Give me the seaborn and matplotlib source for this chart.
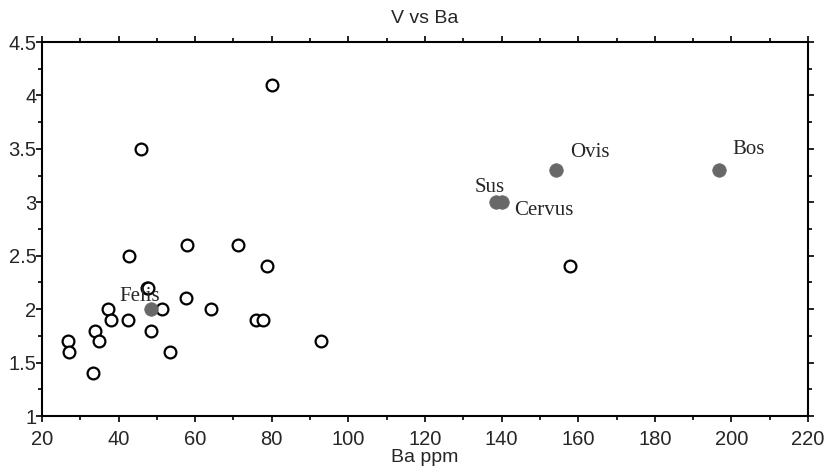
import matplotlib
matplotlib.use("Agg")
import matplotlib.pyplot as plt
import seaborn as sns
import pandas as pd
from matplotlib.ticker import MultipleLocator

# Open circles (unlabelled samples)
open_ba = [26.7, 27.1, 33.4, 33.8, 35.0, 37.2, 37.9, 42.4, 42.8, 47.5, 47.7, 48.5,
           51.4, 53.4, 57.5, 57.9, 64.0, 71.3, 78.7, 75.8, 77.8, 92.8, 45.8, 80.1, 157.9]
open_v = [1.7, 1.6, 1.4, 1.8, 1.7, 2.0, 1.9, 1.9, 2.5, 2.2, 2.2, 1.8,
          2.0, 1.6, 2.1, 2.6, 2.0, 2.6, 2.4, 1.9, 1.9, 1.7, 3.5, 4.1, 2.4]

# Filled reference animals
ref_names = ["Felis", "Sus", "Cervus", "Ovis", "Bos"]
ref_ba = [48.5, 138.5, 140.0, 154.2, 196.8]
ref_v = [2.0, 3.0, 3.0, 3.3, 3.3]

x_ticks = [20, 40, 60, 80, 100, 120, 140, 160, 180, 200, 220]
y_ticks = [1, 1.5, 2, 2.5, 3, 3.5, 4, 4.5]

sns.set_style("white")
plt.rcParams['font.family'] = ['Liberation Sans', 'DejaVu Sans']

fig = plt.figure(figsize=(8.3, 4.73), dpi=100)
ax = fig.add_axes([0.0506, 0.1205, 0.9229, 0.7907])

df_open = pd.DataFrame({"Ba": open_ba, "V": open_v})
df_ref = pd.DataFrame({"Ba": ref_ba, "V": ref_v, "name": ref_names})

sns.scatterplot(data=df_open, x="Ba", y="V", ax=ax, s=72, facecolors="white",
                edgecolor="black", linewidth=1.6, zorder=3)
sns.scatterplot(data=df_ref, x="Ba", y="V", ax=ax, s=95, color="#686868",
                edgecolor="#686868", linewidth=0.5, zorder=4)

offsets = {"Felis": (9, 13, "right", "center"),
           "Sus": (9, 15, "right", "center"),
           "Cervus": (13, -8, "left", "center"),
           "Ovis": (14, 18, "left", "center"),
           "Bos": (13, 21, "left", "center")}
for n, xx, yy in zip(ref_names, ref_ba, ref_v):
    dx, dy, ha, va = offsets[n]
    ax.annotate(n, (xx, yy), xytext=(dx, dy), textcoords="offset pixels",
                ha=ha, va=va, fontsize=15, family="Liberation Serif", zorder=5)

ax.set_xlim(20, 220)
ax.set_ylim(1, 4.5)
ax.set_xticks(x_ticks)
ax.set_yticks(y_ticks)
ax.set_yticklabels([f"{v:g}" for v in y_ticks])
ax.xaxis.set_minor_locator(MultipleLocator(10))
ax.yaxis.set_minor_locator(MultipleLocator(0.25))
ax.tick_params(which="both", direction="out", top=True, right=True,
               bottom=True, left=True, labelsize=14.5, width=1.2, color="black")
ax.tick_params(which="major", length=4)
ax.tick_params(which="minor", length=3)
ax.tick_params(axis="x", pad=6)
ax.tick_params(axis="y", pad=0)
for s in ax.spines.values():
    s.set_visible(True)
    s.set_color("black")
    s.set_linewidth(1.5)

ax.set_xlabel("Ba ppm", fontsize=14, labelpad=0)
ax.set_ylabel("")
ax.set_title("V vs Ba", fontsize=14, pad=14)

fig.savefig("out.png", dpi=100)
